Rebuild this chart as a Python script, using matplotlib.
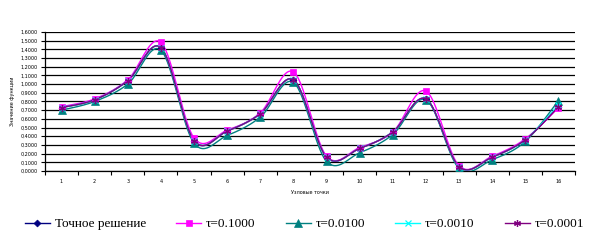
import numpy as np
import matplotlib
matplotlib.use("Agg")
import matplotlib.pyplot as plt
from matplotlib.ticker import FixedLocator, FuncFormatter

categories = list(range(1, 17))
exact   = [0.73, 0.82, 1.04, 1.42, 0.35, 0.46, 0.66, 1.05, 0.16, 0.26, 0.45, 0.83, 0.05, 0.16, 0.36, 0.74]
tau_1   = [0.74, 0.83, 1.05, 1.48, 0.38, 0.47, 0.67, 1.14, 0.17, 0.27, 0.45, 0.92, 0.06, 0.17, 0.37, 0.73]
tau_01  = [0.70, 0.80, 1.00, 1.39, 0.32, 0.41, 0.62, 1.02, 0.11, 0.21, 0.42, 0.82, 0.03, 0.13, 0.34, 0.81]
tau_001 = [0.73, 0.82, 1.04, 1.42, 0.35, 0.46, 0.66, 1.05, 0.16, 0.26, 0.45, 0.83, 0.05, 0.16, 0.36, 0.76]
tau_0001= [0.73, 0.82, 1.04, 1.42, 0.35, 0.46, 0.66, 1.05, 0.16, 0.26, 0.45, 0.83, 0.05, 0.16, 0.36, 0.74]
labels = ["Точное решение", "τ=0.1000", "τ=0.0100", "τ=0.0010", "τ=0.0001"]

def smooth(x, y, n=20):
    x = np.asarray(x, float); y = np.asarray(y, float)
    P = np.column_stack([x, y])
    out = [P[0]]
    for i in range(len(P) - 1):
        p0 = P[i - 1] if i > 0 else P[i]
        p1 = P[i]; p2 = P[i + 1]
        p3 = P[i + 2] if i + 2 < len(P) else P[i + 1]
        c1 = p1 + (p2 - p0) / 6.0
        c2 = p2 - (p3 - p1) / 6.0
        t = np.linspace(0, 1, n + 1)[1:, None]
        seg = (1 - t) ** 3 * p1 + 3 * (1 - t) ** 2 * t * c1 + 3 * (1 - t) * t ** 2 * c2 + t ** 3 * p2
        out.extend(seg)
    out = np.array(out)
    return out[:, 0], out[:, 1]

fig = plt.figure(figsize=(5.91, 2.40), dpi=100)
ax = fig.add_axes([0.0761, 0.2875, 0.973 - 0.0761, 0.8667 - 0.2875])

styles = [
    dict(color="#000080", marker="D", ms=3.5),
    dict(color="#FF00FF", marker="s", ms=5),
    dict(color="#008080", marker="^", ms=5.5),
    dict(color="#00FFFF", marker="x", ms=4, mew=0.9),
    dict(color="#800080", marker=(6, 2, 0), ms=5, mew=0.9),
]
series = [exact, tau_1, tau_01, tau_001, tau_0001]
handles = []
for vals, st, lab in zip(series, styles, labels):
    sx, sy = smooth(categories, vals)
    ax.plot(sx, sy, color=st["color"], lw=1.0, zorder=3)
    ax.plot(categories, vals, ls="none", color=st["color"], marker=st["marker"],
            ms=st["ms"], mew=st.get("mew", 0.5), zorder=4)
    h, = ax.plot([], [], color=st["color"], lw=1.0, marker=st["marker"],
                 ms=st["ms"], mew=st.get("mew", 0.5), label=lab)
    handles.append(h)

ax.set_xlim(0.5, 16.5)
ax.set_ylim(0, 1.6)
yt = np.round(np.arange(0, 1.6001, 0.1), 4)
ax.yaxis.set_major_locator(FixedLocator(yt))
ax.yaxis.set_major_formatter(FuncFormatter(lambda v, p: f"{v:.4f}".replace(".", ",")))
ax.grid(axis="y", color="black", lw=0.9)
ax.set_axisbelow(True)
ax.set_xticks(categories)
ax.set_xticklabels([str(c) for c in categories])
ax.set_xticks(np.arange(0.5, 16.6, 1.0), minor=True)
ax.tick_params(axis="x", which="major", length=0, labelsize=3.5, pad=6)
ax.tick_params(axis="x", which="minor", length=3, width=0.8, direction="out")
ax.tick_params(axis="y", length=3, width=0.8, labelsize=3.5, pad=2, direction="out")
for s in ["top", "right"]:
    ax.spines[s].set_visible(False)
for s in ["left", "bottom"]:
    ax.spines[s].set_linewidth(0.9)
ax.set_ylabel("Значение функции", fontsize=3.5, labelpad=4)
ax.set_xlabel("Узловые точки", fontsize=3.5, labelpad=4)

fig.legend(handles=handles, loc="center", bbox_to_anchor=(0.515, 1 - 224 / 240), ncol=5,
           frameon=False, prop={"family": "Liberation Serif", "size": 9.5},
           handlelength=1.9, handletextpad=0.35, columnspacing=2.3, borderaxespad=0,
           borderpad=0)

fig.savefig("out.png", dpi=100)
